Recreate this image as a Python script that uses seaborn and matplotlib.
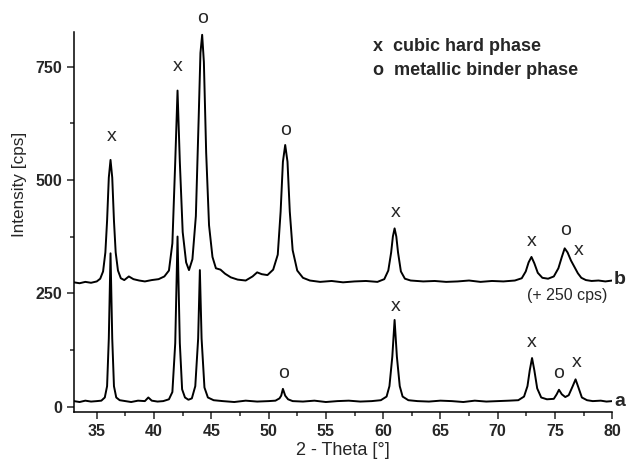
import pandas as pd
import matplotlib
matplotlib.use('Agg')
import matplotlib.pyplot as plt
from matplotlib.ticker import AutoMinorLocator
import seaborn as sns

# ===================================================================
# DATA
# ===================================================================

# pattern a (as measured)
theta_a = [33.0, 33.5, 34.0, 34.5, 35.0, 35.4, 35.7, 35.9, 36.05, 36.2, 36.35,
           36.5, 36.7, 37.0, 37.5, 38.0, 38.6, 39.2, 39.5, 39.8, 40.3, 40.8,
           41.3, 41.6, 41.85, 42.05, 42.25, 42.45, 42.7, 43.0, 43.3, 43.6, 43.85,
           44.0, 44.15, 44.4, 44.7, 45.2, 46.0, 47.0, 48.0, 49.0, 50.0, 50.6,
           50.95, 51.1, 51.25, 51.45, 51.7, 52.1, 53.0, 54.0, 55.0, 56.0, 57.0,
           58.0, 59.0, 59.8, 60.3, 60.55, 60.8, 61.0, 61.2, 61.45, 61.7, 62.2,
           63.0, 64.0, 65.0, 66.0, 67.0, 68.0, 69.0, 70.0, 71.0, 71.8, 72.3,
           72.6, 72.8, 73.0, 73.2, 73.45, 73.8, 74.3, 74.9, 75.15, 75.35, 75.6,
           75.9, 76.2, 76.55, 76.8, 77.05, 77.35, 77.8, 78.3, 79.0, 79.5, 80.0]
int_a = [12, 10, 13, 11, 12, 13, 20, 45, 150, 338, 150,
         45, 20, 14, 12, 10, 13, 12, 20, 13, 11, 12,
         16, 32, 140, 375, 140, 38, 20, 15, 18, 45, 150,
         301, 150, 42, 20, 14, 12, 10, 13, 11, 12, 13,
         18, 24, 39, 24, 16, 12, 11, 13, 10, 12, 13,
         11, 12, 14, 22, 45, 110, 191, 110, 45, 22, 14,
         12, 11, 13, 12, 10, 13, 11, 12, 13, 14, 22,
         45, 80, 107, 80, 40, 20, 16, 17, 27, 37, 27,
         21, 25, 45, 60, 42, 20, 14, 12, 13, 11, 12]

# pattern b (shifted by + 250 cps)
theta_b = [33.0, 33.5, 34.0, 34.5, 35.0, 35.3, 35.55, 35.75, 35.9, 36.05, 36.2,
           36.35, 36.5, 36.65, 36.85, 37.1, 37.4, 37.8, 38.2, 38.7, 39.2, 39.8,
           40.4, 40.9, 41.3, 41.6, 41.85, 42.05, 42.25, 42.5, 42.8, 43.05, 43.35,
           43.65, 43.9, 44.05, 44.2, 44.35, 44.55, 44.8, 45.1, 45.4, 45.8, 46.2,
           46.7, 47.3, 48.0, 48.6, 49.0, 49.4, 49.9, 50.4, 50.8, 51.05, 51.25,
           51.45, 51.65, 51.85, 52.1, 52.5, 53.0, 53.6, 54.5, 55.5, 56.5, 57.5,
           58.5, 59.5, 60.1, 60.45, 60.7, 60.85, 61.0, 61.15, 61.3, 61.55, 61.9,
           62.4, 63.5, 64.5, 65.5, 66.5, 67.5, 68.5, 69.5, 70.5, 71.5, 72.1,
           72.45, 72.7, 72.95, 73.2, 73.5, 73.9, 74.4, 74.9, 75.3, 75.6, 75.85,
           76.1, 76.4, 76.7, 77.0, 77.3, 77.7, 78.2, 78.8, 79.4, 80.0]
int_b = [274, 272, 275, 273, 276, 282, 298, 340, 410, 505, 544,
         505, 410, 340, 300, 283, 279, 287, 281, 278, 276, 279,
         281, 287, 300, 360, 540, 697, 540, 385, 318, 301, 325,
         420, 640, 780, 820, 760, 560, 400, 330, 305, 302, 293,
         285, 280, 278, 287, 296, 292, 290, 302, 335, 430, 540,
         577, 540, 430, 345, 300, 284, 278, 275, 277, 274, 276,
         277, 275, 281, 300, 340, 375, 393, 375, 340, 298, 282,
         278, 276, 277, 275, 276, 278, 275, 277, 276, 278, 283,
         298, 318, 330, 316, 295, 284, 282, 287, 305, 330, 349,
         340, 322, 308, 294, 284, 279, 277, 278, 276, 278]

# phase markers: x = cubic hard phase, o = metallic binder phase
mark_b_sym = ['x', 'x', 'o', 'o', 'x', 'x', 'o', 'x']
mark_b_x = [36.3, 42.1, 44.2, 51.5, 61.1, 73.0, 75.9, 77.1]
mark_b_y = [596, 750, 855, 610, 427, 364, 388, 344]

mark_a_sym = ['o', 'x', 'x', 'o', 'x']
mark_a_x = [51.3, 61.1, 73.0, 75.35, 76.9]
mark_a_y = [74, 221, 141, 72, 97]

x_ticks = [35, 40, 45, 50, 55, 60, 65, 70, 75, 80]
y_ticks = [0, 250, 500, 750]

# ===================================================================
# PLOT
# ===================================================================

sns.set_style('ticks')
plt.rcParams['font.family'] = ['Liberation Sans', 'DejaVu Sans']

df_a = pd.DataFrame({'theta': theta_a, 'intensity': int_a})
df_b = pd.DataFrame({'theta': theta_b, 'intensity': int_b})

fig = plt.figure(figsize=(6.26, 4.65), dpi=100)
ax = fig.add_axes([0.118, 0.114, 0.860, 0.817])

sns.lineplot(data=df_a, x='theta', y='intensity', ax=ax, color='black',
             lw=1.4, sort=False, estimator=None)
sns.lineplot(data=df_b, x='theta', y='intensity', ax=ax, color='black',
             lw=1.4, sort=False, estimator=None)

for s, x, y in zip(mark_b_sym, mark_b_x, mark_b_y):
    ax.text(x, y, s, ha='center', va='center', fontsize=14)
for s, x, y in zip(mark_a_sym, mark_a_x, mark_a_y):
    ax.text(x, y, s, ha='center', va='center', fontsize=14)

ax.text(59.1, 794, 'x  cubic hard phase', ha='left', va='center',
        fontsize=13, fontweight='bold')
ax.text(59.1, 741, 'o  metallic binder phase', ha='left', va='center',
        fontsize=13, fontweight='bold')

ax.text(80.15, 280, 'b', ha='left', va='center', fontsize=14,
        fontweight='bold', clip_on=False)
ax.text(80.15, 11, 'a', ha='left', va='center', fontsize=14,
        fontweight='bold', clip_on=False)
ax.text(76.05, 244, '(+ 250 cps)', ha='center', va='center', fontsize=11.5)

ax.set_xlim(33, 80)
ax.set_ylim(-12, 826)
ax.set_xticks(x_ticks)
ax.set_yticks(y_ticks)
ax.xaxis.set_minor_locator(AutoMinorLocator(2))
ax.yaxis.set_minor_locator(AutoMinorLocator(2))
ax.tick_params(which='major', direction='out', length=5, width=1.1,
               labelsize=11.5)
ax.tick_params(which='minor', direction='out', length=2.7, width=1.1)
for lab in ax.get_xticklabels() + ax.get_yticklabels():
    lab.set_fontweight('bold')

ax.set_xlabel('2 - Theta [°]', fontsize=13, labelpad=2)
ax.set_ylabel('Intensity [cps]', fontsize=12.3)
ax.yaxis.set_label_coords(-0.087, 0.6)

sns.despine(ax=ax)
for sp in ['left', 'bottom']:
    ax.spines[sp].set_linewidth(1.1)
    ax.spines[sp].set_color('black')

fig.savefig('out.png', dpi=100)
